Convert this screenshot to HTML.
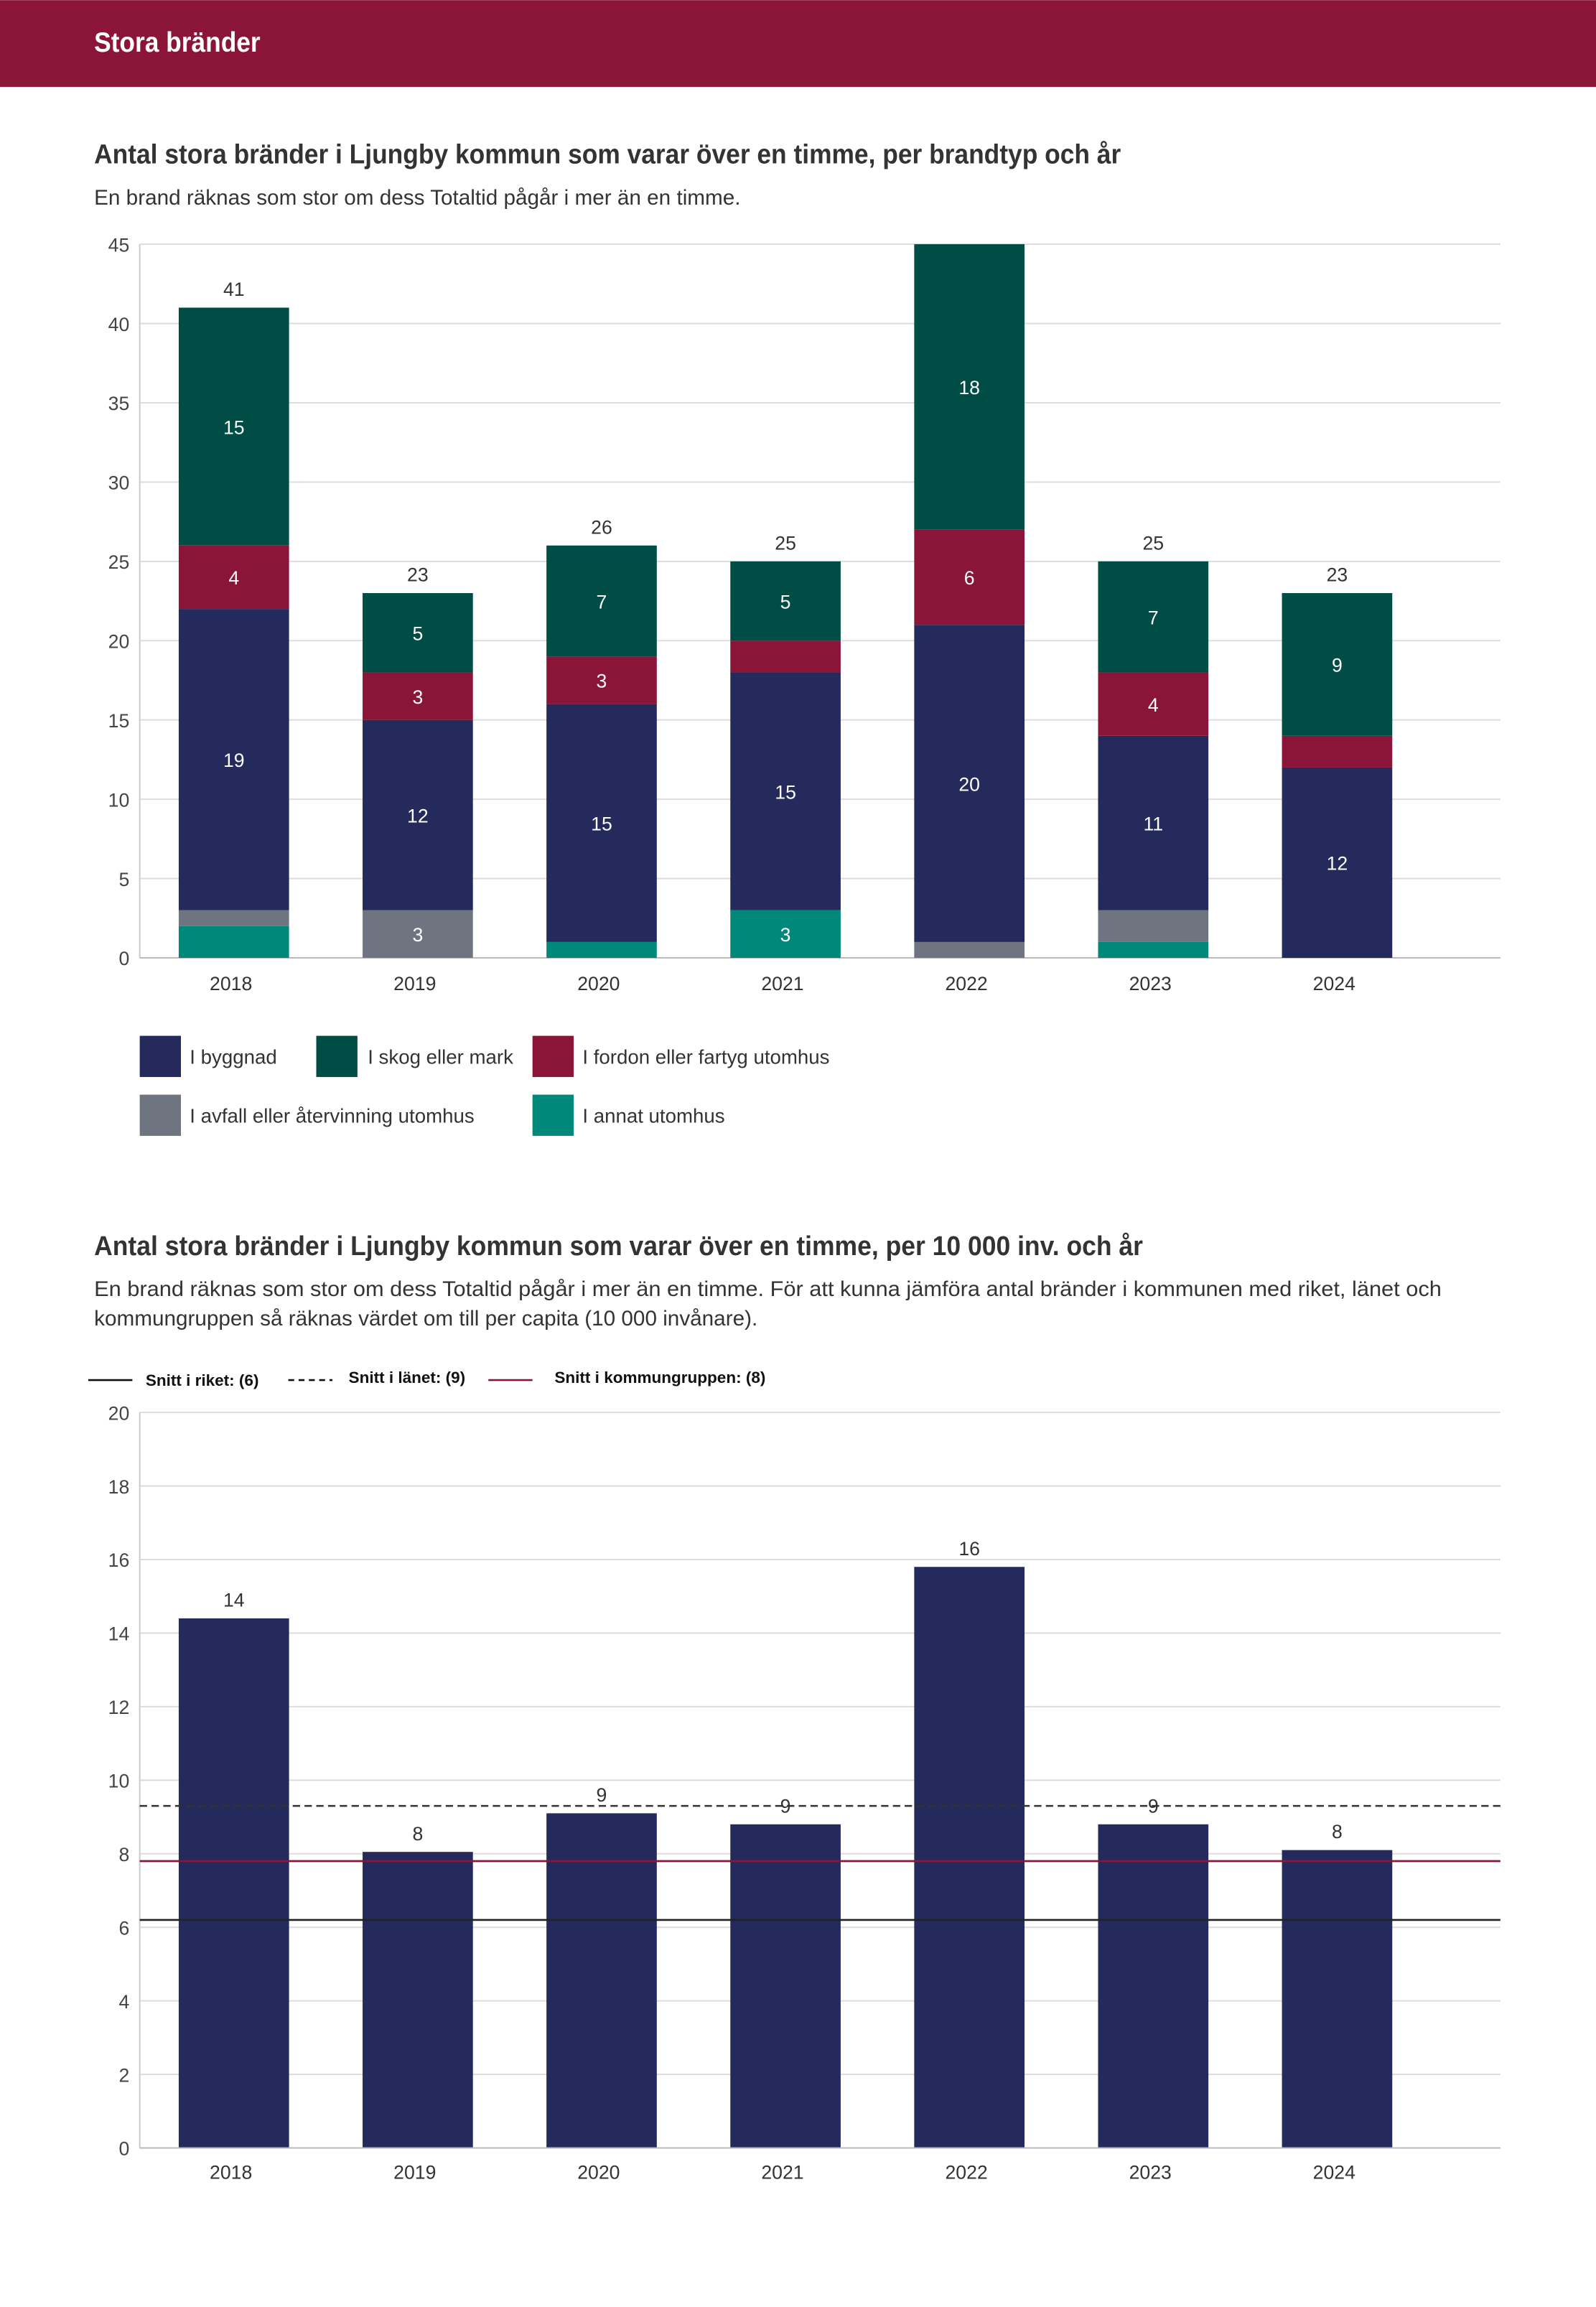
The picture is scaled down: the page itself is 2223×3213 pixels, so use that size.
<!DOCTYPE html>
<html><head><meta charset="utf-8"><style>
html,body{margin:0;padding:0;background:#fff}
svg{display:block}
text{font-family:"Liberation Sans",sans-serif}
</style></head><body>
<svg id="page" width="2223" height="3213" viewBox="0 0 1085 1568" xmlns="http://www.w3.org/2000/svg">
<rect x="0" y="0" width="1085" height="59" fill="#8b1538"/>
<text x="64" y="35" fill="#fff" font-size="19" font-weight="bold" textLength="113" lengthAdjust="spacingAndGlyphs">Stora bränder</text>
<text x="64" y="111" fill="#333" font-size="18.5" font-weight="bold" textLength="698" lengthAdjust="spacingAndGlyphs">Antal stora bränder i Ljungby kommun som varar över en timme, per brandtyp och år</text>
<text x="64" y="139" fill="#333" font-size="14.5">En brand räknas som stor om dess Totaltid pågår i mer än en timme.</text>
<g id="c1"></g>
<g>
<rect x="95" y="704" width="28" height="28" fill="#252a5c"/>
<text x="129" y="723" font-size="13.5" fill="#333">I byggnad</text>
<rect x="215" y="704" width="28" height="28" fill="#004d45"/>
<text x="250" y="723" font-size="13.5" fill="#333">I skog eller mark</text>
<rect x="362" y="704" width="28" height="28" fill="#8b1538"/>
<text x="396" y="723" font-size="13.5" fill="#333">I fordon eller fartyg utomhus</text>
<rect x="95" y="744" width="28" height="28" fill="#6e7480"/>
<text x="129" y="763" font-size="13.5" fill="#333">I avfall eller återvinning utomhus</text>
<rect x="362" y="744" width="28" height="28" fill="#00897b"/>
<text x="396" y="763" font-size="13.5" fill="#333">I annat utomhus</text>
</g>
<text x="64" y="853" fill="#333" font-size="18.5" font-weight="bold" textLength="713" lengthAdjust="spacingAndGlyphs">Antal stora bränder i Ljungby kommun som varar över en timme, per 10 000 inv. och år</text>
<text x="64" y="881" fill="#333" font-size="14.5" textLength="916" lengthAdjust="spacingAndGlyphs">En brand räknas som stor om dess Totaltid pågår i mer än en timme. För att kunna jämföra antal bränder i kommunen med riket, länet och</text>
<text x="64" y="901" fill="#333" font-size="14.5">kommungruppen så räknas värdet om till per capita (10 000 invånare).</text>
<g>
<line x1="60" y1="938" x2="90" y2="938" stroke="#111" stroke-width="1.3"/>
<text x="99" y="942" font-size="11" font-weight="bold" fill="#111">Snitt i riket: (6)</text>
<line x1="196" y1="938" x2="226" y2="938" stroke="#111" stroke-width="1.3" stroke-dasharray="4,3"/>
<text x="237" y="940" font-size="11" font-weight="bold" fill="#111">Snitt i länet: (9)</text>
<line x1="332" y1="938" x2="362" y2="938" stroke="#8b1538" stroke-width="1.3"/>
<text x="377" y="940" font-size="11" font-weight="bold" fill="#111">Snitt i kommungruppen: (8)</text>
</g>
<g id="c2"></g>
</svg>
<script>
const years = ["2018","2019","2020","2021","2022","2023","2024"];
const annat = [2,0,1,3,0,1,0];
const avfall = [1,3,0,0,1,2,0];
const byggnad = [19,12,15,15,20,11,12];
const fordon = [4,3,3,2,6,4,2];
const skog = [15,5,7,5,18,7,9];
const ticks1 = [0,5,10,15,20,25,30,35,40,45];
const perCapita = [14.4,8.05,9.1,8.8,15.8,8.8,8.1];
const perCapitaLabels = ["14","8","9","9","16","9","8"];
const ticks2 = [0,2,4,6,8,10,12,14,16,18,20];
const riket = 6.2;
const lanet = 9.3;
const kommungrupp = 7.8;

const NS="http://www.w3.org/2000/svg";
function mk(tag,attrs,parent,txt){const e=document.createElementNS(NS,tag);for(const k in attrs)e.setAttribute(k,attrs[k]);if(txt!==undefined)e.textContent=txt;parent.appendChild(e);return e;}
const xC = i => 159 + i*125;
const barW = 75;

// Chart 1
const c1=document.getElementById('c1');
const y1 = v => 651 - v*10.78;
ticks1.forEach(t=>{
  const g=mk('line',{x1:95,x2:1020,y1:y1(t),y2:y1(t),stroke:'#ddd','stroke-width':1},c1);
  
  
  const l=mk('text',{x:88,y:y1(t)+5,'text-anchor':'end','font-size':13,fill:'#444'},c1,String(t));
  
  
});
mk('line',{x1:95,x2:95,y1:y1(45),y2:651,stroke:'#ccc'},c1);
mk('line',{x1:95,x2:1020,y1:651,y2:651,stroke:'#bbb'},c1);
const series=[[annat,'#00897b','annat'],[avfall,'#6e7480','avfall'],[byggnad,'#252a5c','byggnad'],[fordon,'#8b1538','fordon'],[skog,'#004d45','skog']];
years.forEach((yr,i)=>{
  let cum=0;
  series.forEach(([arr,col,nm])=>{
    const v=arr[i];
    if(v>0){
      const r=mk('rect',{x:xC(i)-barW/2,y:y1(cum+v),width:barW,height:y1(cum)-y1(cum+v),fill:col},c1);
      
      
      if(v>=3){
        const t=mk('text',{x:xC(i),y:(y1(cum)+y1(cum+v))/2+5,'text-anchor':'middle','font-size':13,fill:'#fff'},c1,String(v));
        
        
      }
    }
    cum+=v;
  });
  if(cum<45){
    const t=mk('text',{x:xC(i),y:y1(cum)-8,'text-anchor':'middle','font-size':13,fill:'#333'},c1,String(cum));
    
    
  }
  const xl=mk('text',{x:xC(i)-2,y:673,'text-anchor':'middle','font-size':13,fill:'#333'},c1,yr);
  
  
});

// Chart 2
const c2=document.getElementById('c2');
const y2 = v => 1460 - v*25;
ticks2.forEach(t=>{
  const g=mk('line',{x1:95,x2:1020,y1:y2(t),y2:y2(t),stroke:'#ddd','stroke-width':1},c2);
  
  
  const l=mk('text',{x:88,y:y2(t)+5,'text-anchor':'end','font-size':13,fill:'#444'},c2,String(t));
  
  
});
mk('line',{x1:95,x2:95,y1:y2(20),y2:1460,stroke:'#ccc'},c2);
years.forEach((yr,i)=>{
  const v=perCapita[i];
  const r=mk('rect',{x:xC(i)-barW/2,y:y2(v),width:barW,height:y2(0)-y2(v),fill:'#252a5c'},c2);
  
  
  const t=mk('text',{x:xC(i),y:y2(v)-8,'text-anchor':'middle','font-size':13,fill:'#333'},c2,perCapitaLabels[i]);
  
  
  const xl=mk('text',{x:xC(i)-2,y:1481,'text-anchor':'middle','font-size':13,fill:'#333'},c2,yr);
  
  
});
const lr=mk('line',{x1:95,x2:1020,y1:y2(riket),y2:y2(riket),stroke:'#222','stroke-width':1.3},c2);


const ll=mk('line',{x1:95,x2:1020,y1:y2(lanet),y2:y2(lanet),stroke:'#333','stroke-width':1.2,'stroke-dasharray':'5,3'},c2);


const lk=mk('line',{x1:95,x2:1020,y1:y2(kommungrupp),y2:y2(kommungrupp),stroke:'#8b1538','stroke-width':1.3},c2);


mk('line',{x1:95,x2:1020,y1:1460,y2:1460,stroke:'#bbb'},c2);
</script>
</body></html>
